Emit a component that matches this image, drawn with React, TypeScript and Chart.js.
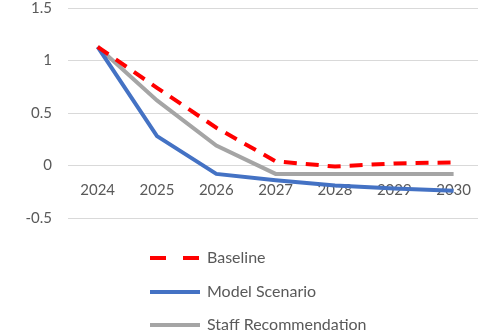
import React, { useEffect, useRef } from "react";
import { Chart, registerables } from "chart.js";

Chart.register(...registerables);

const years = ["2024", "2025", "2026", "2027", "2028", "2029", "2030"];
const baseline = [1.13, 0.74, 0.36, 0.04, -0.01, 0.02, 0.03];
const modelScenario = [1.13, 0.28, -0.08, -0.14, -0.19, -0.22, -0.24];
const staffRecommendation = [1.13, 0.62, 0.19, -0.08, -0.08, -0.08, -0.08];
const seriesNames = ["Baseline", "Model Scenario", "Staff Recommendation"];
const seriesColors = ["#ff0000", "#4472c4", "#a5a5a5"];
const seriesDash = [[13, 9], [], []];

const FONT = "Lato, 'Open Sans', sans-serif";
const TEXT = "#595959";

const legendPlugin = {
  id: "customLegend",
  afterDraw(chart: any) {
    const ctx = chart.ctx;
    const items = [
      { y: 258, dash: [16, 17] },
      { y: 292, dash: [] },
      { y: 325, dash: [] },
    ];
    ctx.save();
    items.forEach((it, i) => {
      ctx.beginPath();
      ctx.setLineDash(it.dash);
      ctx.lineWidth = 4;
      ctx.strokeStyle = seriesColors[i];
      ctx.moveTo(150, it.y);
      ctx.lineTo(200, it.y);
      ctx.stroke();
      ctx.setLineDash([]);
      ctx.fillStyle = TEXT;
      ctx.font = `16px ${FONT}`;
      ctx.textBaseline = "middle";
      ctx.textAlign = "left";
      ctx.fillText(seriesNames[i], 207, it.y);
    });
    ctx.restore();
  },
};

export default function App() {
  const ref = useRef<HTMLCanvasElement>(null);
  useEffect(() => {
    document.body.style.margin = "0";
    const data = [baseline, modelScenario, staffRecommendation];
    const chart = new Chart(ref.current!, {
      type: "line",
      data: {
        labels: years,
        datasets: data.map((d, i) => ({
          label: seriesNames[i],
          data: d,
          borderColor: seriesColors[i],
          backgroundColor: seriesColors[i],
          borderWidth: 4,
          borderDash: seriesDash[i],
          pointRadius: 0,
          tension: 0,
          fill: false,
        })),
      },
      options: {
        responsive: false,
        animation: false,
        layout: { padding: { top: 8, bottom: 114, left: 0, right: 0 } },
        plugins: { legend: { display: false }, tooltip: { enabled: false } },
        scales: {
          x: {
            position: { y: 0 },
            offset: true,
            grid: { display: false, drawTicks: false },
            border: { display: false },
            ticks: { color: TEXT, font: { family: FONT, size: 15 }, padding: 16, maxRotation: 0 },
          },
          y: {
            min: -0.5,
            max: 1.5,
            grid: { color: "#d9d9d9", lineWidth: 1, drawTicks: false },
            border: { display: false },
            ticks: {
              stepSize: 0.5,
              color: TEXT,
              font: { family: FONT, size: 15 },
              padding: 16,
              callback: (v: any) => String(Math.round(Number(v) * 10) / 10),
            },
            afterFit: (s: any) => {
              s.width = 68;
              s.paddingTop = 0;
              s.paddingBottom = 0;
            },
          },
        },
      },
      plugins: [legendPlugin],
    });
    return () => chart.destroy();
  }, []);
  return (
    <div style={{ width: 478, height: 332, overflow: "hidden", position: "relative" }}>
      <canvas ref={ref} width={487} height={332} style={{ display: "block" }} />
    </div>
  );
}
